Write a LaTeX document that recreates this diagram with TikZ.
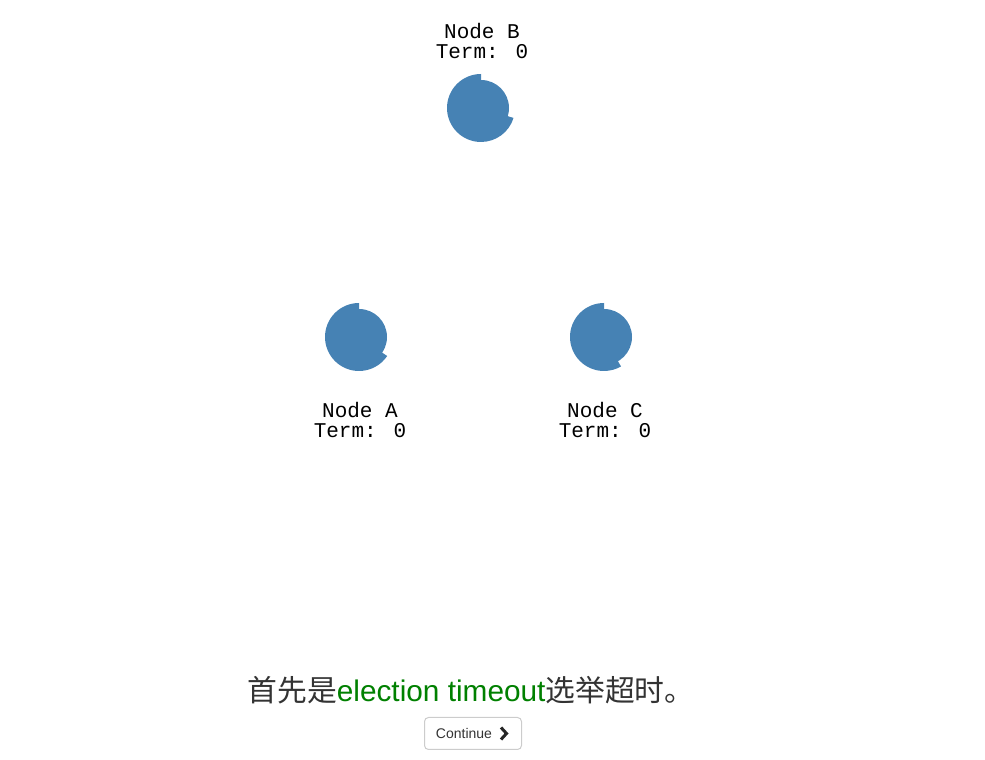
\documentclass[tikz,border=0pt]{standalone}
\usepackage{fontspec}
\setmainfont{Liberation Sans}
\newfontfamily\monofont{Liberation Mono}
\newfontfamily\cjk{Noto Sans CJK SC}
\usetikzlibrary{calc}
\definecolor{steel}{HTML}{4682B4}
\definecolor{txtgray}{HTML}{333333}
\definecolor{timeoutgreen}{HTML}{008000}
\definecolor{btnborder}{HTML}{CCCCCC}
\tikzset{
  nodelabel/.style={font=\monofont\fontsize{21}{20}\selectfont,align=center,inner sep=0pt,text=black},
  server/.style={fill=steel}
}
\begin{document}
\begin{tikzpicture}[x=1pt,y=1pt]
    \useasboundingbox (0,0) rectangle (985,760);
    \coordinate(A)at(359,423);
    \coordinate(B)at(481,652);
    \coordinate(C)at(604,423);
    % servers: inner disc plus timeout arc
    \fill[server](A) circle (28);
    \fill[server](A)--++(90:34) arc[start angle=90,end angle=326,radius=34]--cycle;
    \fill[server](B) circle (28);
    \fill[server](B)--++(90:34) arc[start angle=90,end angle=343,radius=34]--cycle;
    \fill[server](C) circle (28);
    \fill[server](C)--++(90:34) arc[start angle=90,end angle=300,radius=34]--cycle;
    \node[nodelabel](labB) at ($(B)+(1,67)$) {Node B\\Term: 0};
    \node[nodelabel](labA) at ($(A)+(1,-83)$) {Node A\\Term: 0};
    \node[nodelabel](labC) at ($(C)+(1,-83)$) {Node C\\Term: 0};
    % caption and button
    \node[inner sep=0pt,text=txtgray,font=\fontsize{29.8}{32}\selectfont](caption) at (471,70)
      {{\cjk 首先是}\textcolor{timeoutgreen}{election timeout}{\cjk 选举超时。}};
    \draw[btnborder,line width=1pt,fill=white,rounded corners=4pt](424.5,10.5) rectangle (521.5,42.5);
    \node[inner sep=0pt,text=txtgray,font=\fontsize{14}{16}\selectfont](cont) at (464,26.5) {Continue};
    \draw[black!85,line width=3pt](501,32.5)--(506.5,26.5)--(501,20.5);
  \end{tikzpicture}
\end{document}
